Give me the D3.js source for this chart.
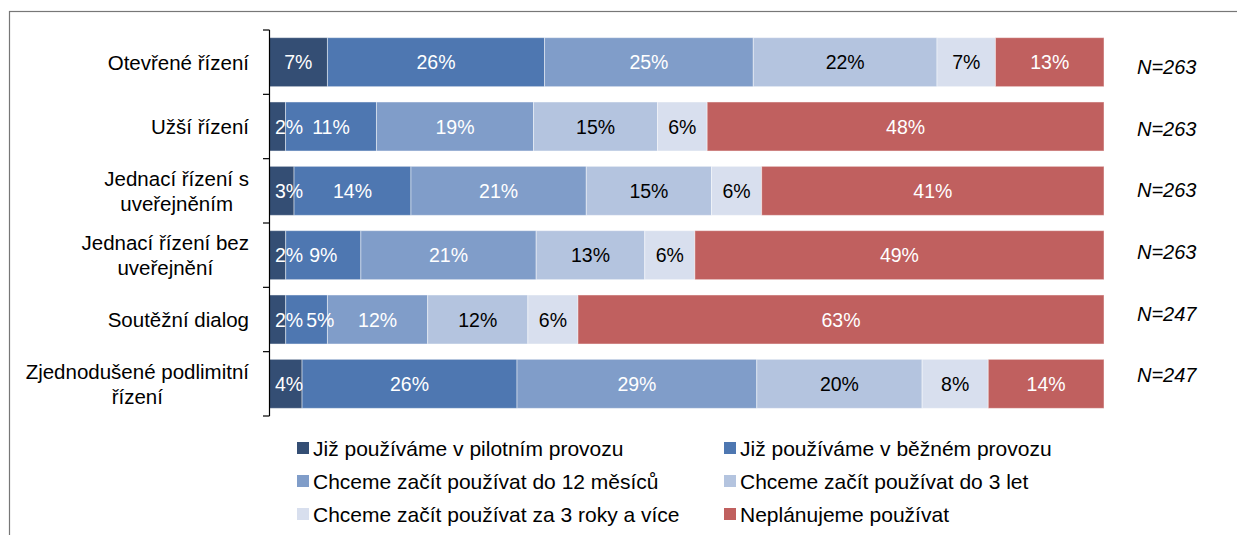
<!DOCTYPE html>
<html>
<head>
<meta charset="utf-8">
<script src="https://cdn.jsdelivr.net/npm/d3@7"></script>
<style>
  html, body { margin: 0; padding: 0; background: #fff; }
  svg { display: block; font-family: "Liberation Sans", Arial, sans-serif; }
</style>
</head>
<body>
<svg id="chart" width="1237" height="535"></svg>
<script>
const categories = [
  "Otevřené řízení",
  "Užší řízení",
  "Jednací řízení s|uveřejněním",
  "Jednací řízení bez|uveřejnění",
  "Soutěžní dialog",
  "Zjednodušené podlimitní|řízení"
];
const seriesNames = [
  "Již používáme v pilotním provozu",
  "Již používáme v běžném provozu",
  "Chceme začít používat do 12 měsíců",
  "Chceme začít používat do 3 let",
  "Chceme začít používat za 3 roky a více",
  "Neplánujeme používat"
];
const pilot    = [7, 2, 3, 2, 2, 4];
const bezny    = [26, 11, 14, 9, 5, 26];
const do12     = [25, 19, 21, 21, 12, 29];
const do3let   = [22, 15, 15, 13, 12, 20];
const za3roky  = [7, 6, 6, 6, 6, 8];
const neplan   = [13, 48, 41, 49, 63, 14];
const nLabels  = ["N=263", "N=263", "N=263", "N=263", "N=247", "N=247"];

const colors = ["#344e74", "#4e77b1", "#809dc9", "#b4c4df", "#d8dfee", "#c0605f"];
const textColors = ["#fff", "#fff", "#fff", "#000", "#000", "#fff"];

const seriesArrays = [pilot, bezny, do12, do3let, za3roky, neplan];
const keys = seriesNames;
const rows = categories.map((c, i) => {
  const o = { cat: c };
  keys.forEach((k, j) => o[k] = seriesArrays[j][i]);
  return o;
});

const svg = d3.select("#chart");

// outer frame (extends beyond right/bottom like the reference)
svg.append("rect")
  .attr("x", 9.5).attr("y", 11.5)
  .attr("width", 1400).attr("height", 600)
  .attr("fill", "none").attr("stroke", "#777").attr("stroke-width", 1.2);

const x = d3.scaleLinear().domain([0, 1]).range([269, 1104]);
const y = d3.scaleBand().domain(categories).range([30, 416]).paddingInner(0.238).paddingOuter(0.119);

const stack = d3.stack().keys(keys).offset(d3.stackOffsetExpand);
const series = stack(rows);

const g = svg.append("g");
series.forEach((s, si) => {
  g.append("g").selectAll("rect").data(s).join("rect")
    .attr("x", d => x(d[0]))
    .attr("y", d => y(d.data.cat))
    .attr("width", d => x(d[1]) - x(d[0]))
    .attr("height", y.bandwidth())
    .attr("fill", colors[si])
    .attr("stroke", "#fff").attr("stroke-opacity", 0.45).attr("stroke-width", 1);
});

// value labels with simple collision avoidance (like Excel)
const labG = svg.append("g");
categories.forEach((c, ci) => {
  let prevRight = x(0) + 3;
  series.forEach((s, si) => {
    const d = s[ci];
    const t = labG.append("text")
      .attr("y", y(c) + y.bandwidth() / 2)
      .attr("dy", "0.36em")
      .attr("text-anchor", "middle")
      .attr("font-size", 19.5)
      .attr("fill", textColors[si])
      .text(d.data[keys[si]] + "%");
    const w = t.node().getComputedTextLength();
    const cx = Math.max((x(d[0]) + x(d[1])) / 2, prevRight + 3 + w / 2);
    t.attr("x", cx);
    prevRight = cx + w / 2;
  });
});

// axis line and ticks at band boundaries
const axisG = svg.append("g");
axisG.append("line").attr("x1", 269.5).attr("x2", 269.5).attr("y1", 30).attr("y2", 416)
  .attr("stroke", "#000").attr("stroke-width", 1.2);
const step = y.step();
const bounds = d3.range(categories.length + 1).map(i => y(categories[0]) - y.paddingOuter() * step + i * step);
axisG.selectAll(".tk").data(bounds).join("line")
  .attr("x1", 263).attr("x2", 269.5)
  .attr("y1", d => d).attr("y2", d => d)
  .attr("stroke", "#000").attr("stroke-width", 1.2);

// category labels (multi-line, centered within right-aligned block)
const labelRight = 249;
const lineH = 25;
categories.forEach(c => {
  const lines = c.split("|");
  const cy = y(c) + y.bandwidth() / 2;
  const t = svg.append("text")
    .attr("font-size", 20.5).attr("fill", "#000").attr("text-anchor", "middle");
  const spans = lines.map(ln => t.append("tspan").text(ln));
  const w = d3.max(t.selectAll("tspan").nodes(), n => n.getComputedTextLength());
  const cx = labelRight - w / 2;
  const y0 = cy - (lines.length - 1) * lineH / 2;
  spans.forEach((sp, i) => sp.attr("x", cx).attr("y", y0 + i * lineH).attr("dy", "0.36em"));
});

// N labels
const ny = d3.scalePoint().domain(categories).range([67, 375]);
svg.append("g").selectAll("text").data(categories).join("text")
  .attr("x", 1137)
  .attr("y", c => ny(c))
  .attr("dy", "0.36em")
  .attr("font-size", 20).attr("font-style", "italic").attr("fill", "#000")
  .text((c, i) => nLabels[i]);

// legend
const legX = [297, 724];
const legY = [448, 481, 514];
const leg = svg.append("g");
seriesNames.forEach((nm, i) => {
  const lx = legX[i % 2], ly = legY[Math.floor(i / 2)];
  leg.append("rect").attr("x", lx).attr("y", ly - 6).attr("width", 12).attr("height", 12).attr("fill", colors[i]);
  leg.append("text").attr("x", lx + 16).attr("y", ly).attr("dy", "0.36em")
    .attr("font-size", 21).attr("fill", "#000").text(nm);
});
</script>
</body>
</html>
